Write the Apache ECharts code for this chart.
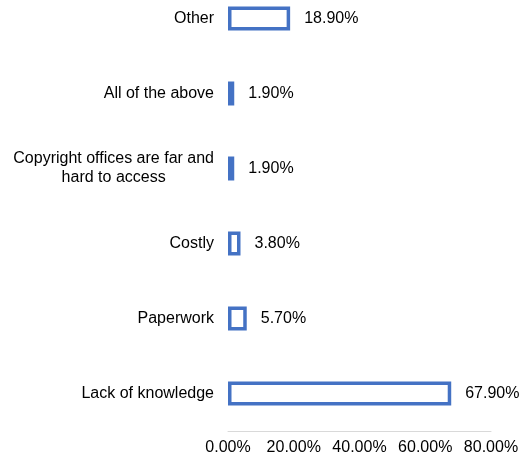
<!DOCTYPE html>
<html>
<head>
<meta charset="utf-8">
<script src="https://cdn.jsdelivr.net/npm/echarts@6/dist/echarts.min.js"></script>
<style>html,body{margin:0;padding:0;background:#fff;overflow:hidden}#c{width:524px;height:481px;margin-top:-19px}</style>
</head>
<body>
<div id="c"></div>
<script>
const categories = ['Lack of knowledge', 'Paperwork', 'Costly', 'Copyright offices are far and\nhard to access', 'All of the above', 'Other'];
const values = [67.9, 5.7, 3.8, 1.9, 1.9, 18.9];
const axisMin = 0, axisMax = 80, axisStep = 20;

const FONT = 'Liberation Sans, Arial, sans-serif';
const FS = 16;
const chart = echarts.init(document.getElementById('c'), null, {renderer: 'canvas'});
chart.setOption({
  animation: false,
  backgroundColor: '#ffffff',
  grid: {left: 228, right: 33, top: 0, bottom: 31, containLabel: false},
  xAxis: {
    type: 'value', min: axisMin, max: axisMax, interval: axisStep,
    axisLine: {show: true, lineStyle: {color: '#D9D9D9', width: 1}},
    axisTick: {show: false},
    splitLine: {show: false},
    axisLabel: {
      color: '#000', fontSize: FS, fontFamily: FONT, margin: 9,
      formatter: v => v.toFixed(2) + '%'
    }
  },
  yAxis: {
    type: 'category', data: categories,
    axisLine: {show: false}, axisTick: {show: false},
    axisLabel: {
      color: '#000', fontSize: FS, fontFamily: FONT, margin: 14,
      formatter: v => v.split('\n').map(s => '{c|' + s + '}').join('\n'),
      rich: {c: {align: 'center', fontSize: FS, color: '#000', lineHeight: 19, fontFamily: FONT}}
    }
  },
  series: [{
    type: 'bar', data: values, barWidth: 24,
    itemStyle: {color: '#ffffff', borderColor: '#4472C4', borderWidth: 3.5},
    label: {
      show: true, position: 'right', distance: 14, color: '#000', fontSize: FS,
      fontFamily: FONT,
      formatter: p => p.value.toFixed(2) + '%'
    }
  }]
});
</script>
</body>
</html>
